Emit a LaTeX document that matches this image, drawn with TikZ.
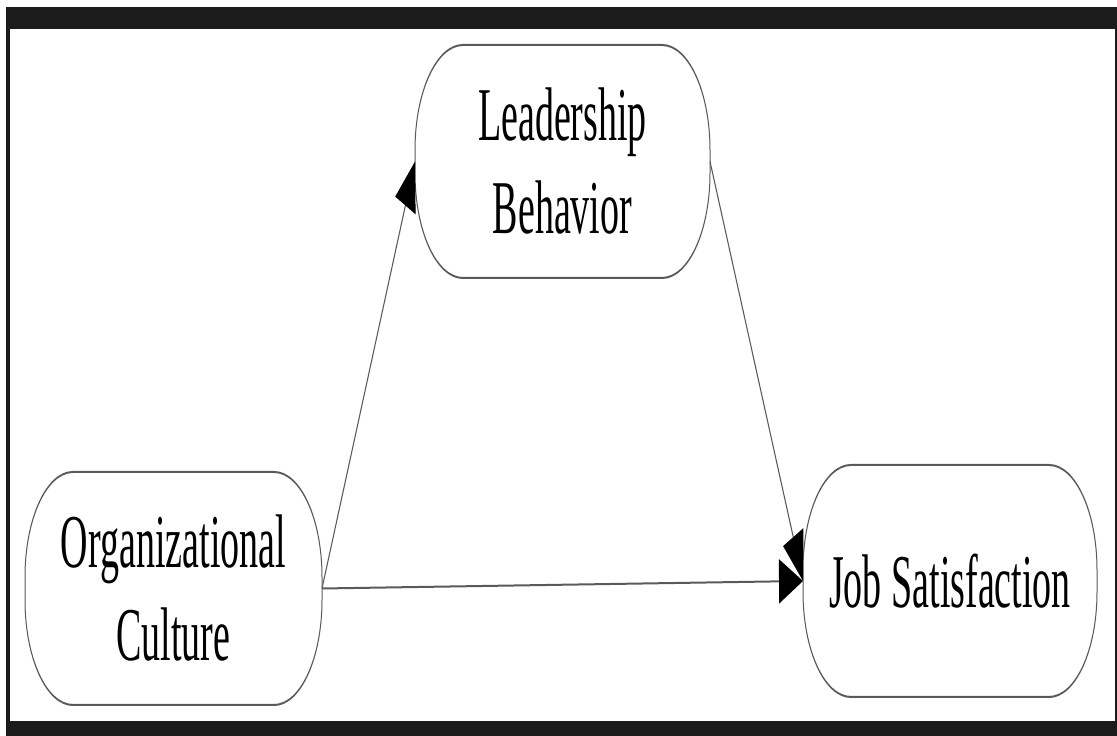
\documentclass[tikz,border=0pt]{standalone}
\usepackage{fontspec}
\setmainfont{Liberation Serif}
\usetikzlibrary{arrows.meta}
\definecolor{linegray}{HTML}{5A5A5A}
\definecolor{framebk}{HTML}{1B1B1B}
\begin{document}
\begin{tikzpicture}[x=1pt,y=1pt,
  conceptbox/.style={rectangle, minimum height=233pt, inner sep=0pt, outer sep=0pt,
    align=center, font=\fontsize{76}{93}\selectfont},
  boxline/.style={draw=linegray, line width=2pt},
  link/.style={draw=linegray, line width=2pt,
    -{Triangle[length=48pt,width=44pt,color=black]}}]
% page and dark frame
\useasboundingbox (0,0) rectangle (1117,736);
\fill[white] (0,0) rectangle (1117,736);
\fill[framebk] (6,0) rectangle (1117,729);
\fill[white] (10,15) rectangle (1115,707);
% the diagram itself is drawn twice as wide and squeezed horizontally
\begin{scope}[transform canvas={xscale=0.5}]
  \node[conceptbox, minimum width=594pt] (org)  at (347,147.5) {Organizational\\Culture};
  \node[conceptbox, minimum width=590pt] (lead) at (1125,574.5) {Leadership\\Behavior};
  \node[conceptbox, minimum width=588pt, minimum height=232pt] (job) at (1900,155) {Job Satisfaction};
  % capsule outlines with elliptic corners
  \foreach \n in {org,lead,job}{
    \draw[boxline] ([xshift=96pt]\n.north west) -- ([xshift=-96pt]\n.north east)
      arc[start angle=90, end angle=0, x radius=96pt, y radius=105pt]
      -- ([yshift=105pt]\n.south east)
      arc[start angle=0, end angle=-90, x radius=96pt, y radius=105pt]
      -- ([xshift=96pt]\n.south west)
      arc[start angle=270, end angle=180, x radius=96pt, y radius=105pt]
      -- ([yshift=-105pt]\n.north west)
      arc[start angle=180, end angle=90, x radius=96pt, y radius=105pt]
      -- cycle;
  }
  % paths
  \draw[link] (org.east) -- (lead.west);
  \draw[link] (org.east) -- (job.west);
  \draw[link] (lead.east) -- (job.west);
\end{scope}
\end{tikzpicture}
\end{document}
